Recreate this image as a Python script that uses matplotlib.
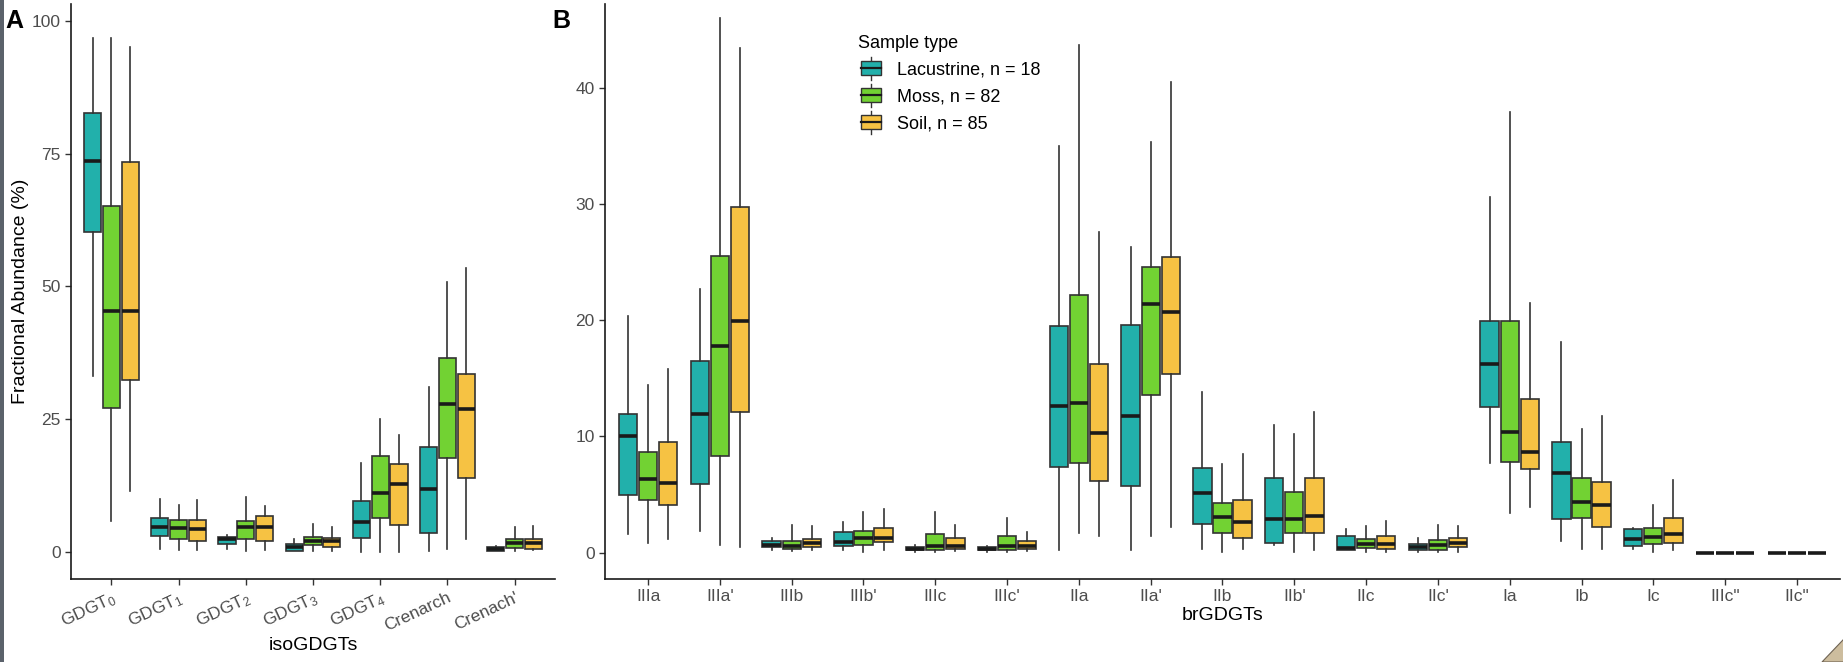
import matplotlib
matplotlib.use("Agg")
import matplotlib.pyplot as plt
from matplotlib.legend_handler import HandlerBase
from matplotlib.patches import Rectangle, Patch, Polygon
from matplotlib.lines import Line2D
import numpy as np

plt.rcParams['font.family'] = ['Liberation Sans', 'DejaVu Sans']
plt.rcParams['mathtext.default'] = 'regular'

# sample groups
groups = ["Lacustrine, n = 18", "Moss, n = 82", "Soil, n = 85"]
colors = ["#22B0AB", "#72D233", "#F6C243"]

# ---- panel A: isoGDGTs (box stats: whisker low, Q1, median, Q3, whisker high)
iso_labels = ["GDGT$_0$", "GDGT$_1$", "GDGT$_2$", "GDGT$_3$", "GDGT$_4$",
              "Crenarch", "Crenach'"]
iso_lacustrine = [
    [33.2, 60.3, 73.6, 82.7, 96.8],
    [0.6, 3.0, 4.6, 6.4, 10.0],
    [0.5, 1.4, 2.4, 2.8, 3.2],
    [0.1, 0.2, 0.9, 1.4, 2.5],
    [0.0, 2.7, 5.6, 9.5, 16.7],
    [0.1, 3.5, 11.8, 19.8, 31.1],
    [0.1, 0.2, 0.5, 0.9, 1.1],
]
iso_moss = [
    [5.8, 27.1, 45.4, 65.2, 96.8],
    [0.3, 2.5, 4.5, 6.1, 8.9],
    [0.2, 2.5, 4.7, 5.8, 10.3],
    [0.1, 1.3, 2.1, 2.9, 5.2],
    [0.0, 6.3, 11.1, 18.0, 25.1],
    [0.6, 17.6, 27.8, 36.6, 50.9],
    [0.2, 0.8, 1.7, 2.5, 4.6],
]
iso_soil = [
    [11.4, 32.4, 45.4, 73.4, 95.1],
    [0.3, 2.1, 4.4, 6.0, 9.7],
    [0.3, 2.0, 4.7, 6.8, 8.7],
    [0.2, 0.9, 2.1, 2.7, 4.6],
    [0.0, 5.1, 12.8, 16.5, 22.1],
    [2.5, 13.9, 27.0, 33.6, 53.4],
    [0.3, 0.6, 1.6, 2.4, 4.8],
]

# ---- panel B: brGDGTs
br_labels = ["IIIa", "IIIa'", "IIIb", "IIIb'", "IIIc", "IIIc'", "IIa", "IIa'",
             "IIb", "IIb'", "IIc", "IIc'", "Ia", "Ib", "Ic", "IIIc\"", "IIc\""]
br_lacustrine = [
    [1.6, 5.0, 10.0, 11.9, 20.4],
    [1.9, 5.9, 11.9, 16.5, 22.7],
    [0.2, 0.5, 0.65, 1.05, 1.3],
    [0.25, 0.55, 0.9, 1.75, 2.65],
    [0.1, 0.2, 0.3, 0.5, 0.7],
    [0.1, 0.2, 0.3, 0.45, 0.6],
    [0.25, 7.35, 12.65, 19.5, 35.0],
    [0.25, 5.7, 11.8, 19.6, 26.3],
    [0.35, 2.5, 5.1, 7.3, 13.8],
    [0.65, 0.85, 2.9, 6.45, 11.0],
    [0.2, 0.25, 0.4, 1.4, 2.0],
    [0.1, 0.22, 0.47, 0.73, 1.25],
    [7.7, 12.5, 16.2, 19.9, 30.6],
    [1.05, 2.9, 6.9, 9.5, 18.1],
    [0.35, 0.6, 1.2, 2.05, 2.1],
    [0.0, 0.0, 0.0, 0.0, 0.0],
    [0.0, 0.0, 0.0, 0.0, 0.0],
]
br_moss = [
    [0.8, 4.5, 6.3, 8.7, 14.4],
    [0.7, 8.3, 17.8, 25.5, 46.0],
    [0.15, 0.35, 0.6, 1.05, 2.4],
    [0.1, 0.65, 1.3, 1.85, 3.5],
    [0.1, 0.25, 0.6, 1.65, 3.5],
    [0.1, 0.25, 0.55, 1.4, 3.0],
    [1.7, 7.7, 12.9, 22.2, 43.7],
    [1.4, 13.6, 21.4, 24.6, 35.3],
    [0.07, 1.7, 3.1, 4.25, 7.6],
    [0.07, 1.7, 2.9, 5.2, 10.2],
    [0.07, 0.4, 0.75, 1.2, 2.3],
    [0.1, 0.25, 0.7, 1.13, 2.35],
    [3.4, 7.8, 10.4, 19.9, 37.9],
    [0.33, 3.0, 4.4, 6.4, 10.6],
    [0.07, 0.73, 1.35, 2.15, 4.1],
    [0.0, 0.0, 0.0, 0.0, 0.0],
    [0.0, 0.0, 0.0, 0.0, 0.0],
]
br_soil = [
    [1.2, 4.1, 6.0, 9.5, 15.8],
    [0.5, 12.1, 19.9, 29.7, 43.4],
    [0.2, 0.5, 0.8, 1.2, 2.3],
    [0.2, 0.9, 1.25, 2.1, 3.75],
    [0.15, 0.3, 0.6, 1.3, 2.35],
    [0.15, 0.3, 0.6, 1.0, 1.75],
    [1.4, 6.2, 10.3, 16.25, 27.6],
    [2.2, 15.35, 20.7, 25.45, 40.5],
    [0.3, 1.3, 2.65, 4.5, 8.5],
    [0.2, 1.7, 3.2, 6.4, 12.1],
    [0.07, 0.33, 0.75, 1.45, 2.7],
    [0.07, 0.45, 0.85, 1.25, 2.3],
    [3.9, 7.2, 8.7, 13.2, 21.5],
    [0.33, 2.2, 4.1, 6.1, 11.8],
    [0.25, 0.8, 1.6, 3.0, 6.25],
    [0.0, 0.0, 0.0, 0.0, 0.0],
    [0.0, 0.0, 0.0, 0.0, 0.0],
]

EDGE = "#333333"
TICK_GREY = "#4D4D4D"


def draw_boxes(ax, series_list, n_cat):
    offsets = [-0.28, 0.0, 0.28]
    for series, col, off in zip(series_list, colors, offsets):
        stats = []
        for lo, q1, med, q3, hi in series:
            stats.append(dict(whislo=lo, q1=q1, med=med, q3=q3, whishi=hi, fliers=[]))
        pos = np.arange(n_cat) + off
        ax.bxp(stats, positions=pos, widths=0.255, patch_artist=True,
               showcaps=False, showfliers=False, manage_ticks=False,
               boxprops=dict(facecolor=col, edgecolor=EDGE, linewidth=1.2),
               whiskerprops=dict(color=EDGE, linewidth=1.2),
               medianprops=dict(color="#1a1a1a", linewidth=2.6, solid_capstyle="butt"))


def style_axis(ax, n_cat):
    for side in ["top", "right"]:
        ax.spines[side].set_visible(False)
    for side in ["left", "bottom"]:
        ax.spines[side].set_linewidth(1.2)
        ax.spines[side].set_color("#1a1a1a")
    ax.set_xlim(-0.6, n_cat - 0.4)
    ax.tick_params(axis="both", colors="#333333", length=4, width=1.0,
                   labelcolor=TICK_GREY, labelsize=12.5)


fig = plt.figure(figsize=(18.43, 6.62), dpi=100)
W, H = 1843.0, 662.0

# left edge strip and corner seen in the screenshot
fig.patches.append(Rectangle((0, 0), 4 / W, 1, transform=fig.transFigure,
                             facecolor="#5B626B", edgecolor="none"))
fig.patches.append(Polygon([(1822 / W, 0), (1 + 0.001, 24 / H), (1 + 0.001, 0)],
                           closed=True, transform=fig.transFigure,
                           facecolor="#CDBD9E", edgecolor="#6E6252", linewidth=0.8))

axA = fig.add_axes([71 / W, 83 / H, (555 - 71) / W, (658 - 83) / H])
axB = fig.add_axes([605 / W, 83 / H, (1840 - 605) / W, (658 - 83) / H])
ax_h = 658 - 83

draw_boxes(axA, [iso_lacustrine, iso_moss, iso_soil], len(iso_labels))
style_axis(axA, len(iso_labels))
axA.set_ylim(-5.1, 103.2)
axA.set_yticks([0, 25, 50, 75, 100])
axA.set_xticks(np.arange(len(iso_labels)))
axA.set_xticklabels(iso_labels, rotation=25, ha="right", rotation_mode="anchor")
axA.set_ylabel("Fractional Abundance (%)", fontsize=14)
axA.yaxis.set_label_coords((20 - 71) / 484, 0.5)
axA.yaxis.label.set_va("center")
axA.set_xlabel("isoGDGTs", fontsize=14)
axA.xaxis.set_label_coords(0.5, (17 - 83) / ax_h)
axA.xaxis.label.set_va("center")

draw_boxes(axB, [br_lacustrine, br_moss, br_soil], len(br_labels))
style_axis(axB, len(br_labels))
axB.set_ylim(-2.26, 47.2)
axB.set_yticks([0, 10, 20, 30, 40])
axB.set_xticks(np.arange(len(br_labels)))
axB.set_xticklabels(br_labels)
axB.set_xlabel("brGDGTs", fontsize=14)
axB.xaxis.set_label_coords(0.5, (46 - 83) / ax_h)
axB.xaxis.label.set_va("center")

fig.text(5 / W, 1 - 21 / H, "A", fontsize=18, fontweight="bold", va="center", ha="left")
fig.text(552 / W, 1 - 21 / H, "B", fontsize=18, fontweight="bold", va="center", ha="left")


class BoxHandler(HandlerBase):
    def create_artists(self, legend, orig_handle, xdescent, ydescent,
                       width, height, fontsize, trans):
        col = orig_handle.get_facecolor()
        bw = width * 0.75
        x0 = xdescent + (width - bw) / 2
        cx = x0 + bw / 2
        rect = Rectangle((x0, -ydescent + height * 0.1), bw, height * 0.8,
                         facecolor=col, edgecolor=EDGE, linewidth=1.0, transform=trans)
        mid = -ydescent + height / 2
        med = Line2D([x0, x0 + bw], [mid, mid], color="#1a1a1a", linewidth=1.6, transform=trans)
        w1 = Line2D([cx, cx], [-ydescent - height * 0.15, -ydescent + height * 0.1],
                    color=EDGE, linewidth=1.0, transform=trans)
        w2 = Line2D([cx, cx], [-ydescent + height * 0.9, -ydescent + height * 1.15],
                    color=EDGE, linewidth=1.0, transform=trans)
        return [w1, w2, rect, med]


handles = [Patch(facecolor=c) for c in colors]
leg = fig.legend(handles, groups, handler_map={Patch: BoxHandler()},
                 loc="upper left", bbox_to_anchor=(845 / W, 1 - 22 / H),
                 frameon=False, fontsize=13, title="Sample type", title_fontsize=13,
                 handlelength=1.5, handleheight=1.1, handletextpad=0.7,
                 labelspacing=0.45, borderpad=0.2)
leg._legend_box.align = "left"

fig.savefig("out.png", dpi=100)
